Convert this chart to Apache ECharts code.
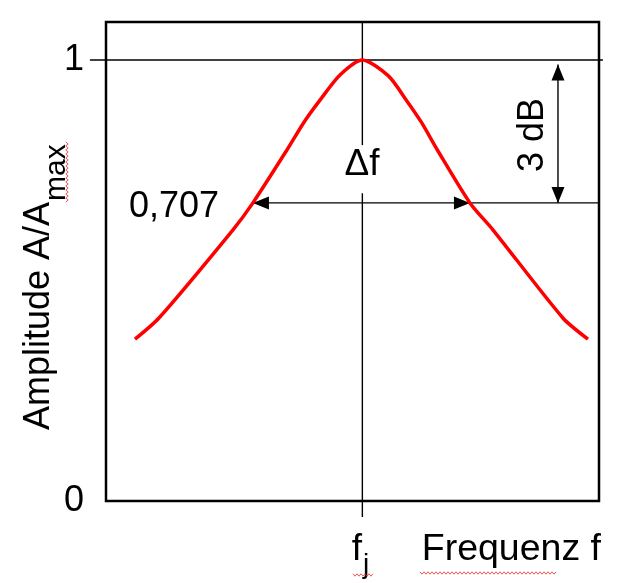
<!DOCTYPE html>
<html><head><meta charset="utf-8">
<script src="https://cdn.jsdelivr.net/npm/echarts@6/dist/echarts.min.js"></script>
<style>html,body{margin:0;padding:0;background:#fff}#c{width:620px;height:583px}</style>
</head><body><div id="c"></div>
<script>
// Resonance curve (normalised amplitude vs. frequency, centre f_j at x = 0)
const curveX = [-2.306, -2.063, -1.312, -1.110, -0.765, -0.592, -0.430, -0.227, 0, 0.264, 0.446, 0.598, 0.761, 1.091, 1.324, 2.034, 2.288];
const curveY = [0.367, 0.415, 0.615, 0.676, 0.796, 0.859, 0.909, 0.966, 1.0, 0.964, 0.909, 0.859, 0.796, 0.676, 0.615, 0.415, 0.367];
const yTickValues = [0, 1];
const xRange = [-2.6, 2.4];
const yRange = [0, 1.0862];
// annotation geometry in data units
const levelY = 0.676;           // drawn level of the "0,707" line
const bandLeft = -1.110;        // left end of Δf arrow
const bandRight = 1.091;        // right end of Δf arrow
const dbX = 1.984;              // x of the 3 dB arrow
const dbTop = 0.99;             // top of the 3 dB arrow
const oneLine = [-2.763, 2.44]; // extent of the y=1 reference line
const centreGap = [0.807, 0.698];
const centreBottom = -0.036;

// [x1, y1, x2, y2, headAtStart, headAtEnd]
const arrowSegments = [
  [oneLine[0], 1, oneLine[1], 1, 0, 0],
  [0, yRange[1], 0, centreGap[0], 0, 0],
  [0, centreGap[1], 0, centreBottom, 0, 0],
  [bandLeft, levelY, bandRight, levelY, 1, 1],
  [bandRight, levelY, xRange[1], levelY, 0, 0],
  [dbX, dbTop, dbX, levelY, 1, 1]
];

const chart = echarts.init(document.getElementById('c'), null, {renderer: 'canvas'});
const FONT = 'Liberation Sans, Arial, sans-serif';

function head(tip, dx, dy) {
  const L = 16, W = 6.5;
  const nx = -dy, ny = dx;
  const bx = tip[0] - dx * L, by = tip[1] - dy * L;
  return {type: 'polygon', shape: {points: [[tip[0], tip[1]], [bx + nx * W, by + ny * W], [bx - nx * W, by - ny * W]]},
    style: {fill: '#000'}};
}

function renderSeg(params, api) {
  const p1 = api.coord([api.value(0), api.value(1)]);
  const p2 = api.coord([api.value(2), api.value(3)]);
  const len = Math.hypot(p2[0] - p1[0], p2[1] - p1[1]) || 1;
  const dx = (p2[0] - p1[0]) / len, dy = (p2[1] - p1[1]) / len;
  const children = [{type: 'line', shape: {x1: p1[0], y1: p1[1], x2: p2[0], y2: p2[1]},
    style: {stroke: '#000', lineWidth: 1.4}}];
  if (api.value(4)) children.push(head(p1, -dx, -dy));
  if (api.value(5)) children.push(head(p2, dx, dy));
  return {type: 'group', children: children};
}

function wavy(x0, y0, x1, y1) {
  const pts = [];
  const len = Math.hypot(x1 - x0, y1 - y0);
  const dx = (x1 - x0) / len, dy = (y1 - y0) / len;
  const n = Math.round(len / 2);
  for (let i = 0; i <= n; i++) {
    const t = i * 2;
    const off = (i % 2 ? 1.2 : -1.2);
    pts.push([x0 + dx * t - dy * off, y0 + dy * t + dx * off]);
  }
  return {type: 'polyline', shape: {points: pts}, style: {stroke: '#e03030', lineWidth: 0.8, fill: null}, silent: true};
}

chart.setOption({
  animation: false,
  grid: {left: 106, top: 22, right: 21, bottom: 82, show: true, borderColor: '#000', borderWidth: 2.5, backgroundColor: 'transparent'},
  xAxis: {type: 'value', min: xRange[0], max: xRange[1],
    axisLine: {show: false}, axisTick: {show: false}, axisLabel: {show: false}, splitLine: {show: false}},
  yAxis: {type: 'value', min: yRange[0], max: yRange[1], interval: 1,
    axisLine: {show: false}, axisTick: {show: false}, splitLine: {show: false},
    axisLabel: {margin: 22, fontSize: 36, fontFamily: FONT, color: '#000', showMaxLabel: false,
      formatter: v => yTickValues.indexOf(v) >= 0 ? String(v) : ''}},
  series: [
    {type: 'line', data: curveX.map((x, i) => [x, curveY[i]]), smooth: 0.25, symbol: 'none',
      lineStyle: {color: '#ff0000', width: 3.5}, z: 3},
    {type: 'custom', renderItem: renderSeg, data: arrowSegments, clip: false, z: 2,
      encode: {x: [0, 2], y: [1, 3]}}
  ],
  graphic: [
    {type: 'text', x: 39, y: 430, rotation: Math.PI / 2,
      style: {text: 'Amplitude A/A', font: '36px ' + FONT, fill: '#000', align: 'left', verticalAlign: 'middle'}},
    {type: 'text', x: 57, y: 201, rotation: Math.PI / 2,
      style: {text: 'max', font: '30px ' + FONT, fill: '#000', align: 'left', verticalAlign: 'middle'}},
    {type: 'text', x: 174, y: 207,
      style: {text: '0,707', font: '36px ' + FONT, fill: '#000', align: 'center', verticalAlign: 'middle'}},
    {type: 'text', x: 362, y: 165,
      style: {text: 'Δf', font: '37px ' + FONT, fill: '#000', align: 'center', verticalAlign: 'middle'}},
    {type: 'text', x: 533, y: 135, rotation: Math.PI / 2,
      style: {text: '3 dB', font: '36px ' + FONT, fill: '#000', align: 'center', verticalAlign: 'middle'}},
    {type: 'text', x: 357, y: 550,
      style: {text: 'f', font: '37px ' + FONT, fill: '#000', align: 'center', verticalAlign: 'middle'}},
    {type: 'text', x: 366, y: 565,
      style: {text: 'j', font: '28px ' + FONT, fill: '#000', align: 'center', verticalAlign: 'middle'}},
    {type: 'text', x: 601, y: 550,
      style: {text: 'Frequenz f', font: '37.5px ' + FONT, fill: '#000', align: 'right', verticalAlign: 'middle'}},
    wavy(420, 573, 556, 573),
    wavy(353, 575, 372, 575),
    wavy(67, 202, 67, 142)
  ]
});
</script>
</body></html>
